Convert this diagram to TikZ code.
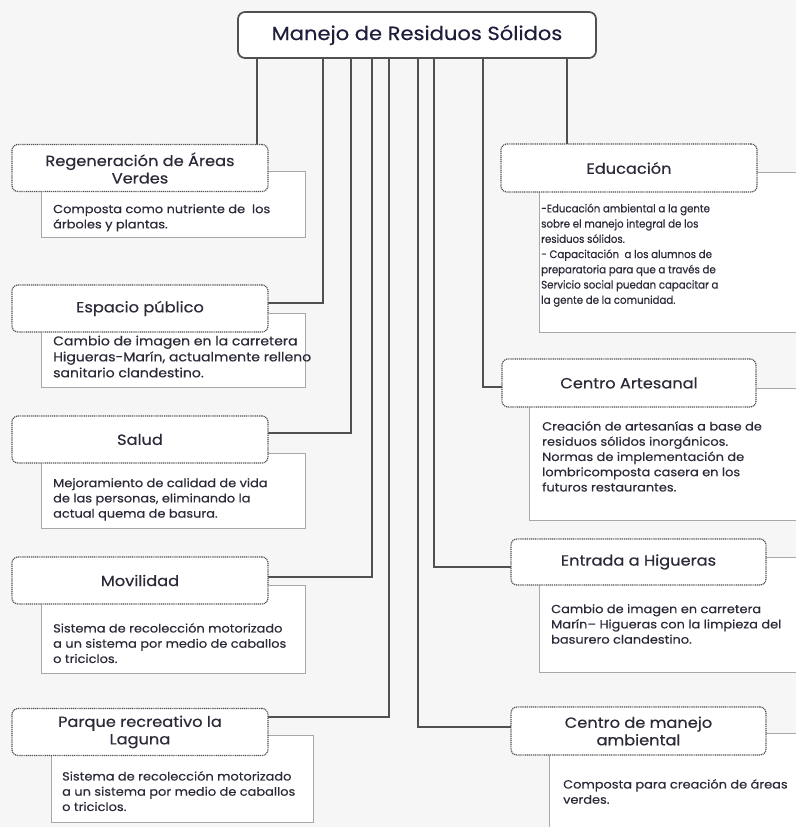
\documentclass[tikz,border=0pt]{standalone}
\usepackage{fontspec}
\setmainfont{Poppins}
\newfontfamily\bodyfont[FakeStretch=1.1,FakeBold=0.35]{Poppins}
\newfontfamily\narrowfont[FakeStretch=0.93,FakeBold=0.35]{Poppins}
\newfontfamily\headfont[FakeStretch=1.1,FakeBold=0.4]{Poppins}
\definecolor{bg}{HTML}{F6F6F6}
\definecolor{ln}{HTML}{505050}
\definecolor{tb}{HTML}{A8A8A8}
\definecolor{tx}{HTML}{2A2A38}
\definecolor{ttl}{HTML}{1E1E3C}
\begin{document}
\begin{tikzpicture}[x=1bp,y=-1bp,
  titlebox/.style={draw=ln, line width=1.2bp, dash pattern=on 1.1bp off 0.8bp, fill=white,
    rounded corners=6bp, minimum width=256bp, minimum height=47bp, align=center,
    font=\headfont\fontsize{14.8}{17.5}\selectfont, text=tx, inner sep=0pt},
  infobox/.style={draw=tb, line width=1.3bp, fill=white, anchor=north west, inner sep=0pt},
  infotext/.style={anchor=north west, inner sep=0pt, align=left,
    font=\bodyfont\fontsize{11.8}{15.3}\selectfont, text=tx},
  conn/.style={draw=ln, line width=1.3bp}]
\clip (0,0) rectangle (796,827);
\fill[bg] (0,0) rectangle (796,827);
\useasboundingbox (0,0) rectangle (796,827);

% info boxes (behind)
\node[infobox, minimum width=264bp, minimum height=66bp] (regI) at (41,171) {};
\node[infobox, minimum width=264bp, minimum height=74bp] (espI) at (41,313) {};
\node[infobox, minimum width=264bp, minimum height=75bp] (salI) at (41,453) {};
\node[infobox, minimum width=264bp, minimum height=88bp] (movI) at (41,585) {};
\node[infobox, minimum width=262bp, minimum height=87bp] (parI) at (51,735) {};
\node[infobox, minimum width=270bp, minimum height=160bp] (eduI) at (539,172) {};
\node[infobox, minimum width=280bp, minimum height=132bp] (artI) at (529,388) {};
\node[infobox, minimum width=270bp, minimum height=115bp] (entI) at (539,557) {};
\node[infobox, minimum width=260bp, minimum height=110bp] (cmaI) at (549,733) {};

% main title
\node[draw=ln, line width=1.7bp, fill=white, rounded corners=7bp, minimum width=358bp,
  minimum height=46bp, font=\headfont\fontsize{19.2}{22}\selectfont, text=ttl, inner sep=0pt]
  (top) at (417,35) {Manejo de Residuos Sólidos};

% connectors
\draw[conn] (top.south -| 257,0) -- (257,145);
\draw[conn] (top.south -| 323,0) |- (268,303);
\draw[conn] (top.south -| 351,0) |- (268,433);
\draw[conn] (top.south -| 372,0) |- (268,577);
\draw[conn] (top.south -| 389,0) |- (268,717);
\draw[conn] (top.south -| 418,0) |- (511,727);
\draw[conn] (top.south -| 434,0) |- (511,567);
\draw[conn] (top.south -| 483,0) |- (502,387);
\draw[conn] (top.south -| 567,0) -- (567,144);

% title boxes
\node[titlebox] (reg) at (140,168) {Regeneración de Áreas\\Verdes};
\node[titlebox] (esp) at (140,308.5) {Espacio público};
\node[titlebox] (sal) at (140,439.5) {Salud};
\node[titlebox] (mov) at (140,580.5) {Movilidad};
\node[titlebox] (par) at (140,732) {Parque recreativo la\\Laguna};
\node[titlebox, minimum height=48bp] (edu) at (629,168) {Educación};
\node[titlebox, minimum width=254bp, minimum height=48bp] (art) at (629,383) {Centro Artesanal};
\node[titlebox, minimum width=255bp, minimum height=46bp] (ent) at (638.5,562) {Entrada a Higueras};
\node[titlebox, minimum width=255bp, minimum height=48bp] (cma) at (638.5,731) {Centro de manejo\\ambiental};

% texts
\node[infotext] (regT) at (53,204) {Composta como nutriente de\ \ los\\árboles y plantas.};
\node[infotext, font=\bodyfont\fontsize{12.8}{16}\selectfont] (espT) at (53,335.5) {Cambio de imagen en la carretera\\Higueras-Marín, actualmente relleno\\sanitario clandestino.};
\node[infotext] (salT) at (53,478) {Mejoramiento de calidad de vida\\de las personas, eliminando la\\actual quema de basura.};
\node[infotext] (movT) at (53,623) {Sistema de recolección motorizado\\a un sistema por medio de caballos\\o triciclos.};
\node[infotext] (parT) at (62,771) {Sistema de recolección motorizado\\a un sistema por medio de caballos\\o triciclos.};
\node[infotext, font=\narrowfont\fontsize{11}{15.3}\selectfont] (eduT) at (541,203.5) {-Educación ambiental a la gente\\sobre el manejo integral de los\\residuos sólidos.\\- Capacitación\ \ a los alumnos de\\preparatoria para que a través de\\Servicio social puedan capacitar a\\la gente de la comunidad.};
\node[infotext] (artT) at (542,421) {Creación de artesanías a base de\\residuos sólidos inorgánicos.\\Normas de implementación de\\lombricomposta casera en los\\futuros restaurantes.};
\node[infotext] (entT) at (551,604) {Cambio de imagen en carretera\\Marín– Higueras con la limpieza del\\basurero clandestino.};
\node[infotext] (cmaT) at (563,779) {Composta para creación de áreas\\verdes.};
\end{tikzpicture}
\end{document}
